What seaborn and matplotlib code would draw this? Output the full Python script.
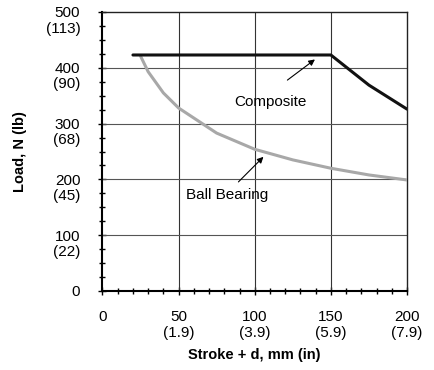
#############################################
########## 1. Import Libraries
#############################################
import pandas as pd
import matplotlib.pyplot as plt
import matplotlib.transforms as mtransforms
from matplotlib.ticker import MultipleLocator
import seaborn as sns

#############################################
########## 2. Data
#############################################
composite_stroke = [20, 150, 175, 200]
composite_load = [423, 423, 369, 326]

ball_stroke = [25, 30, 40, 50, 75, 100, 125, 150, 175, 200]
ball_load = [421, 393, 355, 328, 283, 254, 235, 220, 208, 199]

x_ticks = [0, 50, 100, 150, 200]
x_tick_labels = ["0", "50\n(1.9)", "100\n(3.9)", "150\n(5.9)", "200\n(7.9)"]
y_ticks = [0, 100, 200, 300, 400, 500]
y_tick_labels = ["0", "100\n(22)", "200\n(45)", "300\n(68)", "400\n(90)", "500\n(113)"]

#############################################
########## 3. Plot
#############################################
sns.set_style("white")
plt.rcParams['font.family'] = ['Liberation Sans', 'DejaVu Sans']
plt.rcParams['text.color'] = 'black'

fig = plt.figure(figsize=(4.35, 3.7), dpi=100)
ax = fig.add_axes([0.2356, 0.2135, 0.70, 0.754])

comp_df = pd.DataFrame({"stroke": composite_stroke, "load": composite_load})
ball_df = pd.DataFrame({"stroke": ball_stroke, "load": ball_load})

# Grid lines
for xv in [50, 100, 150]:
    ax.axvline(xv, color="#333333", linewidth=0.8, zorder=1)
for yv in [100, 200, 300, 400]:
    ax.axhline(yv, color="#555555", linewidth=0.8, zorder=1)

sns.lineplot(data=ball_df, x="stroke", y="load", color="#a8a8a8", linewidth=2.2, ax=ax, zorder=3)
sns.lineplot(data=comp_df, x="stroke", y="load", color="#111111", linewidth=2.2, ax=ax, zorder=4)

ax.set_xlim(0, 200)
ax.set_ylim(0, 500)

# Ticks
ax.set_xticks(x_ticks)
ax.set_xticklabels(x_tick_labels, fontsize=11, linespacing=1.1)
ax.set_yticks(y_ticks)
ax.set_yticklabels(y_tick_labels, fontsize=11, linespacing=1.1)
ax.xaxis.set_minor_locator(MultipleLocator(10))
ax.yaxis.set_minor_locator(MultipleLocator(25))
ax.tick_params(axis="both", which="both", direction="inout", color="black", width=1,
               bottom=True, left=True, labelcolor="black")
ax.tick_params(axis="both", which="major", length=6)
ax.tick_params(axis="both", which="minor", length=5)
ax.tick_params(axis="x", which="major", pad=11)
ax.tick_params(axis="y", which="major", pad=13)

# Align y labels so first line sits on tick
offset = mtransforms.ScaledTranslation(0, 4 / 72, fig.dpi_scale_trans)
for lab in ax.get_yticklabels():
    lab.set_verticalalignment("top")
    lab.set_transform(lab.get_transform() + offset)

# Spines
for side in ["left", "bottom"]:
    ax.spines[side].set_color("black")
    ax.spines[side].set_linewidth(1.5)
for side in ["top", "right"]:
    ax.spines[side].set_color("#222222")
    ax.spines[side].set_linewidth(1.0)

# Labels
ax.set_xlabel("Stroke + d, mm (in)", fontsize=10.5, fontweight="bold", labelpad=6, color="black")
ax.set_ylabel("Load, N (lb)", fontsize=10.5, fontweight="bold", labelpad=13, color="black")

# Annotations
ax.annotate("", xy=(141, 418), xytext=(120, 375),
            arrowprops=dict(arrowstyle="-|>", color="black", lw=0.8, mutation_scale=9), zorder=5)
ax.text(110, 339, "Composite", fontsize=11, ha="center", va="center", zorder=5)
ax.annotate("", xy=(107, 244), xytext=(88, 192),
            arrowprops=dict(arrowstyle="-|>", color="black", lw=0.8, mutation_scale=9), zorder=5)
ax.text(82, 172, "Ball Bearing", fontsize=11, ha="center", va="center", zorder=5)

plt.savefig("out.png", dpi=100)
